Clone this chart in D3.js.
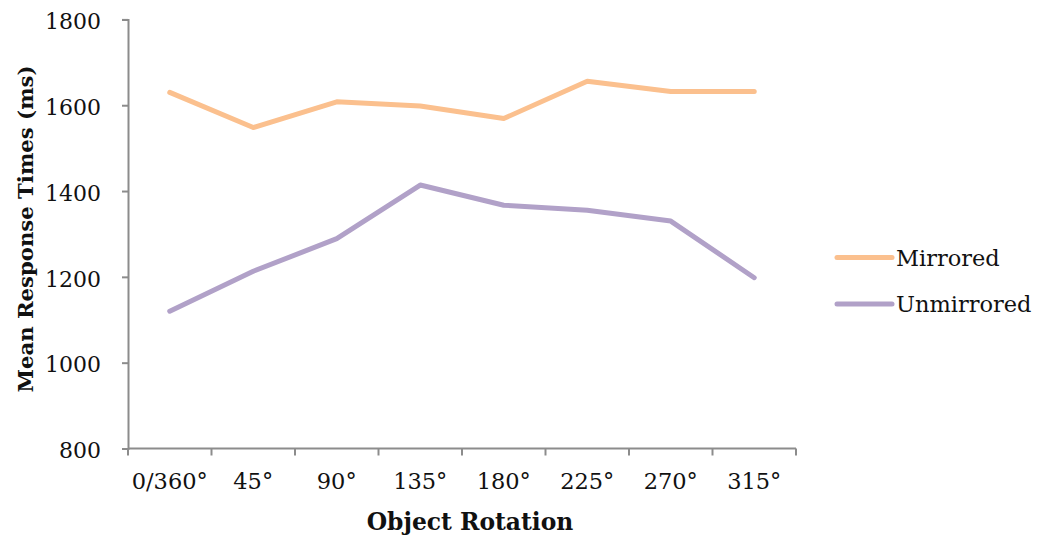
<!DOCTYPE html>
<html>
<head>
<meta charset="utf-8">
<script src="https://cdn.jsdelivr.net/npm/d3@7"></script>
<style>
  html, body { margin: 0; padding: 0; background: #fff; }
  svg { display: block; }
  text { font-family: "DejaVu Serif", "Liberation Serif", serif; fill: #111; }
</style>
</head>
<body>
<svg id="chart" width="1038" height="535"></svg>
<script>
const categories = ["0/360°", "45°", "90°", "135°", "180°", "225°", "270°", "315°"];
const mirrored   = [1630, 1548, 1608, 1598, 1569, 1656, 1632, 1632];
const unmirrored = [1120, 1213, 1289, 1414, 1367, 1355, 1330, 1198];
const yTicks = [800, 1000, 1200, 1400, 1600, 1800];
const seriesNames = ["Mirrored", "Unmirrored"];
const seriesColors = ["#FBC08E", "#B1A1C8"];

const svg = d3.select("#chart");
const x = d3.scaleBand().domain(categories).range([128, 796]).padding(0);
const y = d3.scaleLinear().domain([800, 1800]).range([448.5, 19.4]);
const axisColor = "#8c8c8c";

// Y axis
const yAxis = svg.append("g").attr("transform", "translate(128,0)")
  .call(d3.axisLeft(y).tickValues(yTicks).tickSize(6).tickPadding(21).tickFormat(d3.format("d")));
yAxis.select(".domain").attr("stroke", axisColor).attr("stroke-width", 2);
yAxis.selectAll(".tick line").attr("stroke", axisColor).attr("stroke-width", 2);
yAxis.selectAll(".tick text").style("font-size", "22px").style("font-family", "DejaVu Serif").attr("fill", "#111").attr("dy", "0.42em");

// X axis: ticks at band boundaries
const xAxisG = svg.append("g").attr("transform", `translate(0,${y(800)})`);
xAxisG.append("line").attr("x1", 128).attr("x2", 796).attr("y1", 0).attr("y2", 0)
  .attr("stroke", axisColor).attr("stroke-width", 2);
const bounds = categories.map(c => x(c)).concat([x(categories[categories.length - 1]) + x.bandwidth()]);
xAxisG.selectAll("line.tk").data(bounds).enter().append("line").attr("class", "tk")
  .attr("x1", d => d).attr("x2", d => d).attr("y1", 0).attr("y2", 7)
  .attr("stroke", axisColor).attr("stroke-width", 2);
xAxisG.selectAll("text.lbl").data(categories).enter().append("text").attr("class", "lbl")
  .attr("x", d => x(d) + x.bandwidth() / 2).attr("y", 40.5)
  .attr("text-anchor", "middle").style("font-size", "22.5px").text(d => d);

// Lines
const line = d3.line().x((d, i) => x(categories[i]) + x.bandwidth() / 2).y(d => y(d));
[mirrored, unmirrored].forEach((s, i) => {
  svg.append("path").datum(s).attr("d", line)
    .attr("fill", "none").attr("stroke", seriesColors[i]).attr("stroke-width", 5)
    .attr("stroke-linecap", "round").attr("stroke-linejoin", "round");
});

// Axis titles
svg.append("text").attr("x", 470).attr("y", 530).attr("text-anchor", "middle")
  .style("font-size", "23.4px").style("font-weight", "bold").text("Object Rotation");
svg.append("text").attr("transform", "translate(33,229) rotate(-90)").attr("text-anchor", "middle")
  .style("font-size", "21.2px").style("font-weight", "bold").text("Mean Response Times (ms)");

// Legend
const legend = svg.append("g");
seriesNames.forEach((n, i) => {
  const ly = 257.5 + i * 46.5;
  legend.append("line").attr("x1", 837).attr("x2", 892).attr("y1", ly).attr("y2", ly)
    .attr("stroke", seriesColors[i]).attr("stroke-width", 5).attr("stroke-linecap", "round");
  legend.append("text").attr("x", 896).attr("y", ly + 8).style("font-size", "22.5px").text(n);
});
</script>
</body>
</html>
